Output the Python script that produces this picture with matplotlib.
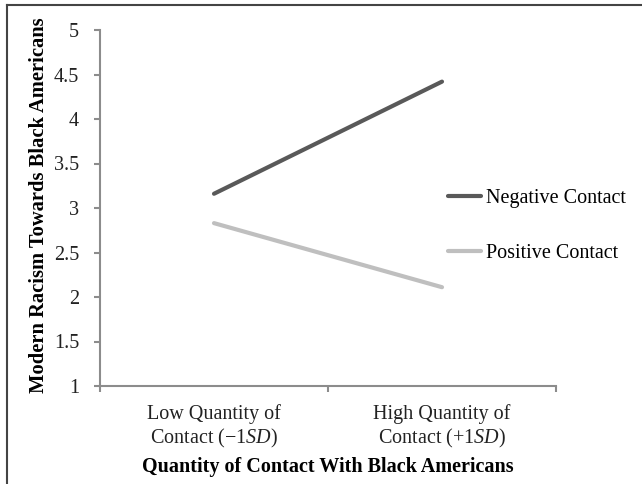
import matplotlib
matplotlib.use("Agg")
import matplotlib.pyplot as plt
from matplotlib.lines import Line2D

plt.rcParams["font.family"] = ["Liberation Serif", "DejaVu Serif"]
plt.rcParams["mathtext.fontset"] = "custom"
plt.rcParams["mathtext.rm"] = "Liberation Serif"
plt.rcParams["mathtext.it"] = "Liberation Serif:italic"

# data
categories = ["Low Quantity of\nContact (\u22121$SD$)", "High Quantity of\nContact (+1$SD$)"]
negative = [3.16, 4.42]
positive = [2.83, 2.11]
series_names = ["Negative Contact", "Positive Contact"]
y_ticks = [1, 1.5, 2, 2.5, 3, 3.5, 4, 4.5, 5]

fig = plt.figure(figsize=(6.42, 4.84), dpi=100)
ax = fig.add_axes([100 / 642, 1 - 386 / 484, 456 / 642, 356 / 484])

xs = [1, 2]
ax.plot(xs, negative, color="#595959", lw=3, solid_capstyle="round", label=series_names[0])
ax.plot(xs, positive, color="#bfbfbf", lw=3, solid_capstyle="round", label=series_names[1])

ax.set_xlim(0.5, 2.5)
ax.set_ylim(1, 5)
ax.set_yticks(y_ticks)
ax.set_yticklabels([f"{v:g}" for v in y_ticks])
ax.set_xticks([0.5, 1.5, 2.5])
ax.set_xticklabels([])
ax.set_xticks(xs, minor=True)
ax.set_xticklabels(categories, minor=True, fontsize=14.5)

for s in ["top", "right"]:
    ax.spines[s].set_visible(False)
for s in ["left", "bottom"]:
    ax.spines[s].set_color("#8c8c8c")
    ax.spines[s].set_linewidth(1.5)

ax.tick_params(axis="y", direction="out", length=4, width=1.5, color="#8c8c8c",
               labelsize=14.5, pad=11, labelcolor="#222222")
ax.tick_params(axis="x", which="major", direction="out", length=4, width=1.5, color="#8c8c8c")
ax.tick_params(axis="x", which="minor", length=0, pad=13, labelcolor="#222222")

ax.set_ylabel("Modern Racism Towards Black Americans", fontsize=14.8, fontweight="bold")
ax.yaxis.set_label_coords(-0.112, 0.508)
ax.set_xlabel("Quantity of Contact With Black Americans", fontsize=14.5, fontweight="bold", labelpad=5)

ax.legend(loc="center left", bbox_to_anchor=(0.74, 0.45), frameon=False, fontsize=14.5,
          handlelength=1.65, labelspacing=1.8, handletextpad=0.25, borderpad=0)

# frame edges of the cropped figure (top and left only)
fig.add_artist(Line2D([7 / 642, 1], [1 - 5 / 484, 1 - 5 / 484], transform=fig.transFigure,
                      color="#444444", lw=1.5))
fig.add_artist(Line2D([7 / 642, 7 / 642], [0, 1 - 5 / 484], transform=fig.transFigure,
                      color="#444444", lw=1.5))

fig.savefig("out.png", dpi=100)
